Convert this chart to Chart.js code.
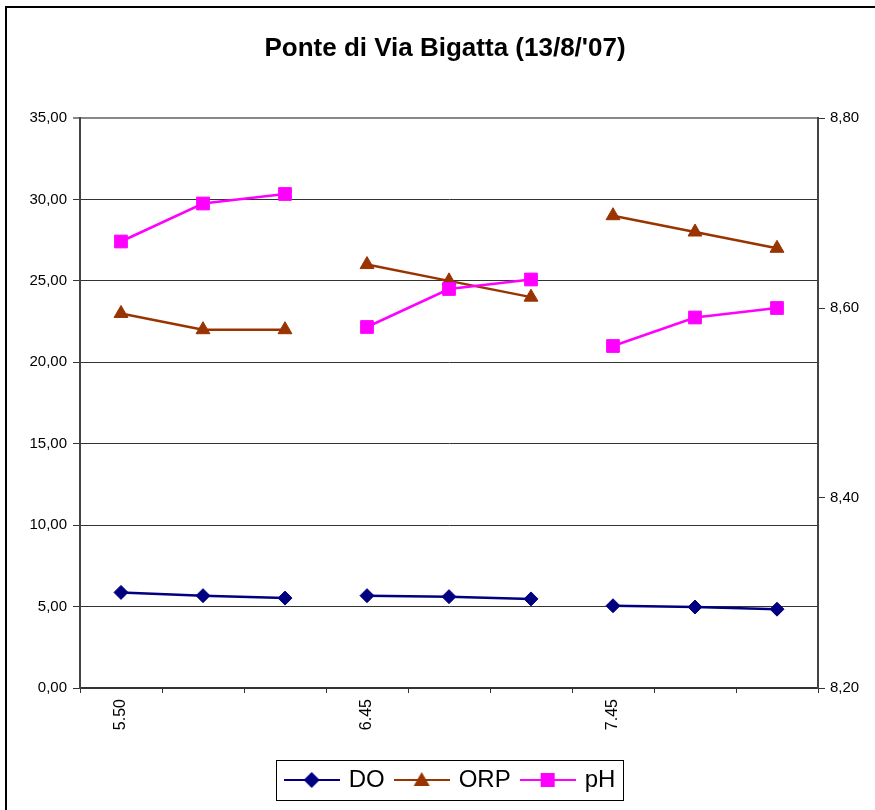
<!DOCTYPE html>
<html>
<head>
<meta charset="utf-8">
<script src="https://cdn.jsdelivr.net/npm/chart.js@4"></script>
<style>
  html, body { margin: 0; padding: 0; background: #fff; overflow: hidden; }
  #wrap { width: 875px; height: 810px; }
</style>
</head>
<body>
<div id="wrap"><canvas id="chart" width="875" height="810"></canvas></div>
<script>
const categories = ["5.50", "", "", "6.45", "", "", "7.45", "", ""];
const doValues = [5.87, 5.67, 5.52, 5.67, 5.61, 5.47, 5.05, 4.97, 4.84];
const orpValues = [23, 22, 22, 26, 25, 24, 29, 28, 27];
const phValues = [8.67, 8.71, 8.72, 8.58, 8.62, 8.63, 8.56, 8.59, 8.60];
const leftTicks = [0, 5, 10, 15, 20, 25, 30, 35];
const rightTicks = [8.2, 8.4, 8.6, 8.8];
const breakAfter = [2, 5]; // no line between the three sampling groups

const FONT = "'Liberation Sans', Arial, sans-serif";
const colors = { DO: "#000080", ORP: "#993300", pH: "#ff00ff" };

function seg(color) {
    return ctx => breakAfter.includes(ctx.p0DataIndex) ? "transparent" : color;
}

// legend symbols: short line with the marker on it
function legendIcon(color, shape) {
    const c = document.createElement("canvas");
    c.width = 56; c.height = 20;
    const g = c.getContext("2d");
    g.strokeStyle = color; g.fillStyle = color; g.lineWidth = 2;
    g.beginPath(); g.moveTo(0, 10); g.lineTo(56, 10); g.stroke();
    g.beginPath();
    if (shape === "diamond") {
        g.moveTo(28, 2); g.lineTo(36, 10); g.lineTo(28, 18); g.lineTo(20, 10);
    } else if (shape === "triangle") {
        g.moveTo(28, 2); g.lineTo(36, 16); g.lineTo(20, 16);
    } else {
        g.rect(21, 3, 14, 14);
    }
    g.closePath(); g.fill();
    return c;
}
const icons = [legendIcon(colors.DO, "diamond"), legendIcon(colors.ORP, "triangle"), legendIcon(colors.pH, "square")];

const frame = {
    id: "frame",
    afterLayout(chart) {
        // legend sits a little right of the canvas centre
        chart.legend.left += 6;
        chart.legend.right += 6;
    },
    beforeDraw(chart) {
        const ctx = chart.ctx;
        ctx.save();
        ctx.strokeStyle = "#000";
        ctx.lineWidth = 2;
        ctx.strokeRect(6, 7, 900, 900);
        ctx.restore();
    },
    afterDraw(chart) {
        const hb = chart.legend.legendHitBoxes;
        if (!hb || !hb.length) return;
        const last = hb[hb.length - 1];
        const ctx = chart.ctx;
        ctx.save();
        ctx.strokeStyle = "#000";
        ctx.lineWidth = 1;
        const x0 = Math.round(hb[0].left - 11) + 0.5;
        const x1 = Math.round(last.left + last.width + 8) + 0.5;
        const y0 = Math.round(hb[0].top - 8) + 0.5;
        const y1 = Math.round(hb[0].top + hb[0].height + 8) + 0.5;
        ctx.strokeRect(x0, y0, x1 - x0, y1 - y0);
        ctx.restore();
    }
};

new Chart(document.getElementById("chart"), {
    type: "line",
    data: {
        labels: categories,
        datasets: [
            {
                label: "DO", data: doValues, yAxisID: "y", order: 2,
                borderColor: colors.DO, backgroundColor: colors.DO, borderWidth: 2.5,
                pointStyle: "rectRot", pointRadius: 7, pointBorderWidth: 1,
                segment: { borderColor: seg(colors.DO) }
            },
            {
                label: "ORP", data: orpValues, yAxisID: "y", order: 1,
                borderColor: colors.ORP, backgroundColor: colors.ORP, borderWidth: 2.5,
                pointStyle: "triangle", pointRadius: 8, pointBorderWidth: 1,
                segment: { borderColor: seg(colors.ORP) }
            },
            {
                label: "pH", data: phValues, yAxisID: "y1", order: 0,
                borderColor: colors.pH, backgroundColor: colors.pH, borderWidth: 2.5,
                pointStyle: "rect", pointRadius: 9, pointBorderWidth: 1,
                segment: { borderColor: seg(colors.pH) }
            }
        ]
    },
    options: {
        responsive: false,
        animation: false,
        layout: { padding: { left: 18, right: 3, top: 0, bottom: 8 } },
        plugins: {
            title: {
                display: true,
                text: "Ponte di Via Bigatta (13/8/'07)",
                color: "#000",
                font: { family: FONT, size: 26, weight: "bold", lineHeight: 1.2 },
                padding: { top: 33.4, bottom: 53.4 }
            },
            legend: {
                position: "bottom",
                labels: {
                    color: "#000",
                    font: { family: FONT, size: 24 },
                    usePointStyle: true,
                    pointStyleWidth: 50,
                    padding: 12,
                    generateLabels(chart) {
                        return chart.data.datasets.map((ds, i) => ({
                            text: ds.label,
                            pointStyle: icons[i],
                            fillStyle: ds.borderColor,
                            strokeStyle: ds.borderColor,
                            lineWidth: 0,
                            hidden: false,
                            datasetIndex: i,
                            fontColor: "#000"
                        }));
                    }
                }
            },
            tooltip: { enabled: false }
        },
        scales: {
            x: {
                offset: true,
                afterFit(scale) { scale.height = 68; },
                grid: { display: true, offset: true, drawOnChartArea: false, tickLength: 5, color: "#333" },
                border: { display: true, color: "#333", width: 2 },
                ticks: {
                    autoSkip: false, maxRotation: 90, minRotation: 90, padding: 6,
                    color: "#000", font: { family: FONT, size: 16 }
                }
            },
            y: {
                position: "left",
                min: 0, max: 35,
                afterFit(scale) { scale.width = 62; },
                afterBuildTicks(scale) { scale.ticks = leftTicks.map(v => ({ value: v })); },
                grid: {
                    color: ctx => ctx.tick && ctx.tick.value === 35 ? "#888" : "#333",
                    lineWidth: ctx => ctx.tick && ctx.tick.value === 35 ? 2 : 1,
                    tickLength: 7
                },
                border: { display: true, color: "#444", width: 2 },
                ticks: {
                    padding: 6, color: "#000", font: { family: FONT, size: 15 },
                    callback: v => v.toFixed(2).replace(".", ",")
                }
            },
            y1: {
                position: "right",
                min: 8.2, max: 8.8,
                afterFit(scale) { scale.width = 54; },
                afterBuildTicks(scale) { scale.ticks = rightTicks.map(v => ({ value: v })); },
                grid: { drawOnChartArea: false, tickLength: 7, color: "#333" },
                border: { display: true, color: "#444", width: 2 },
                ticks: {
                    padding: 5, color: "#000", font: { family: FONT, size: 15 },
                    callback: v => v.toFixed(2).replace(".", ",")
                }
            }
        }
    },
    plugins: [frame]
});
</script>
</body>
</html>
